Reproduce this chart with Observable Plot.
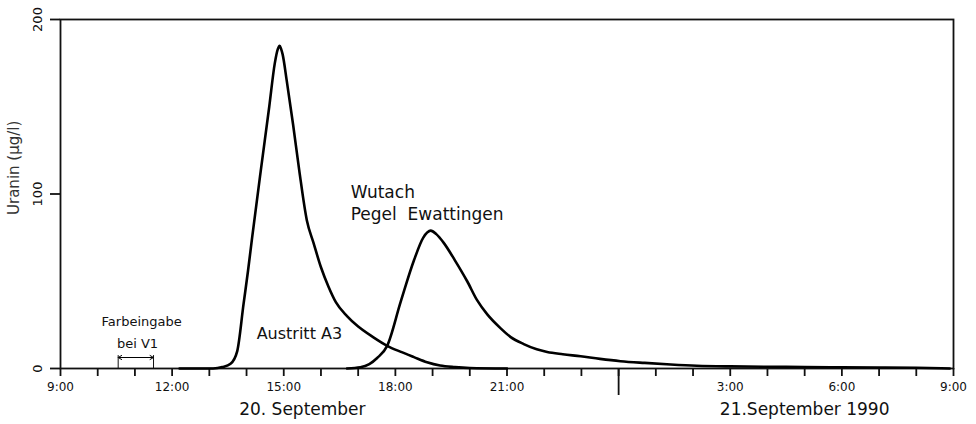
<!DOCTYPE html>
<html>
<head>
<meta charset="utf-8">
<script src="https://cdn.jsdelivr.net/npm/d3@7"></script>
<script src="https://cdn.jsdelivr.net/npm/@observablehq/plot@0.6"></script>
<style>
  html, body { margin: 0; padding: 0; background: #fff; }
  #chart { width: 976px; height: 424px; }
</style>
</head>
<body>
<div id="chart"></div>
<script>
// Hours counted from 0:00 on 20 September 1990 (so 33 = 9:00 on 21 September)
const a3Hours  = [12.2, 13.1, 13.35, 13.57, 13.75, 13.92, 14.04, 14.15, 14.38, 14.61, 14.76, 14.84, 14.89, 14.93, 14.97, 15.08, 15.25, 15.42, 15.62, 15.8, 16.0, 16.2, 16.4, 16.7, 17.0, 17.4, 17.78, 18.15, 18.5, 18.85, 19.2, 19.6, 20.0, 21.0];
const a3Values = [0, 0, 0.8, 2.7, 10, 37, 56, 75, 113, 150, 175, 183, 185, 183, 180, 165, 140, 113, 85, 72, 58, 47, 38, 30, 24, 18, 13, 9.5, 6.5, 3.6, 1.7, 0.8, 0.3, 0];

const wutachHours  = [16.7, 17.06, 17.3, 17.51, 17.78, 18.14, 18.5, 18.75, 18.95, 19.1, 19.3, 19.6, 19.93, 20.2, 20.47, 20.83, 21.1, 21.45, 21.8, 22.08, 22.5, 22.98, 23.5, 24.05, 24.7, 25.4, 26.1, 27, 28, 29, 30, 31, 32, 32.9];
const wutachValues = [0, 0.7, 2.5, 6, 13, 38, 62, 75, 79, 77, 72, 62, 50, 39, 31, 23, 18, 14, 11, 9.5, 8.2, 7, 5.5, 4.2, 3.2, 2.3, 1.6, 1.2, 1, 0.9, 0.7, 0.6, 0.4, 0];

const hourTicks = d3.range(9, 34);
const xLabelHours = [9, 12, 15, 18, 21, 27, 30, 33];
const xLabelTexts = ["9:00", "12:00", "15:00", "18:00", "21:00", "3:00", "6:00", "9:00"];
const midnightTick = [24];
const yTicks = [0, 100, 200];
const yTickLabels = ["0", "100", "200"];
const yTitle = "Uranin (µg/l)";

const dayLabels = [
  {h: 15.5, text: "20. September"},
  {h: 29.0, text: "21.September 1990"}
];
const a3Label = [{h: 15.42, v: 20, text: "Austritt A3"}];
const wutachLabels = [
  {h: 16.8, v: 101, text: "Wutach"},
  {h: 16.8, v: 88.5, text: "Pegel  Ewattingen"}
];
const injectLabels = [
  {h: 11.18, v: 27, text: "Farbeingabe"},
  {h: 11.07, v: 14.3, text: "bei V1"}
];
const injectStart = 10.55, injectEnd = 11.5, injectLevel = 6.3, injectBar = 7.4;

const a3 = a3Hours.map((h, i) => ({h, v: a3Values[i]}));
const wutach = wutachHours.map((h, i) => ({h, v: wutachValues[i]}));
const labelOf = new Map(xLabelHours.map((h, i) => [h, xLabelTexts[i]]));
const injectMid = (injectStart + injectEnd) / 2;
const yTickRows = yTicks.map((v, i) => ({v, text: yTickLabels[i]}));

const chart = Plot.plot({
  width: 976,
  height: 424,
  marginLeft: 60,
  marginRight: 23,
  marginTop: 19,
  marginBottom: 56,
  style: {fontFamily: "DejaVu Sans", fontSize: "12px", color: "#111", background: "#fff"},
  x: {domain: [9, 33]},
  y: {domain: [0, 200]},
  marks: [
    Plot.frame({strokeWidth: 1.8}),
    Plot.axisX({ticks: hourTicks, tickSize: 8, tickPadding: 6, strokeWidth: 1.8,
      tickFormat: h => labelOf.get(h) ?? "", fontSize: 12, label: null}),
    Plot.axisX({ticks: midnightTick, tickSize: 27, strokeWidth: 1.8, fill: "none", label: null}),
    Plot.axisY({ticks: yTicks, tickSize: 10, strokeWidth: 1.8, fill: "none", label: null}),
    Plot.text(yTickRows, {frameAnchor: "left", y: "v", text: "text", rotate: -90,
      dx: -23, fontSize: 13, textAnchor: "middle", lineAnchor: "middle", fill: "#111"}),
    Plot.text([yTitle], {frameAnchor: "left", y: 115, text: d => d, rotate: -90,
      dx: -46, fontSize: 15, textAnchor: "middle", lineAnchor: "middle", fill: "#333"}),
    Plot.text(dayLabels, {x: "h", text: "text", frameAnchor: "bottom", dy: 46, fontSize: 17}),
    Plot.line(a3, {x: "h", y: "v", curve: "monotone-x", strokeWidth: 2.6, stroke: "#000"}),
    Plot.line(wutach, {x: "h", y: "v", curve: "monotone-x", strokeWidth: 2.6, stroke: "#000"}),
    Plot.text(a3Label, {x: "h", y: "v", text: "text", textAnchor: "middle", fontSize: 16}),
    Plot.text(wutachLabels, {x: "h", y: "v", text: "text", textAnchor: "start", fontSize: 17}),
    Plot.text(injectLabels, {x: "h", y: "v", text: "text", fontSize: 13}),
    Plot.arrow([{x1: injectMid, x2: injectStart}, {x1: injectMid, x2: injectEnd}], {
      x1: "x1", x2: "x2", y1: injectLevel, y2: injectLevel, headLength: 6, strokeWidth: 1, stroke: "#000"}),
    Plot.ruleX([injectStart, injectEnd], {x: d => d, y1: 0, y2: injectBar, strokeWidth: 1})
  ]
});
document.getElementById("chart").appendChild(chart);
</script>
</body>
</html>
